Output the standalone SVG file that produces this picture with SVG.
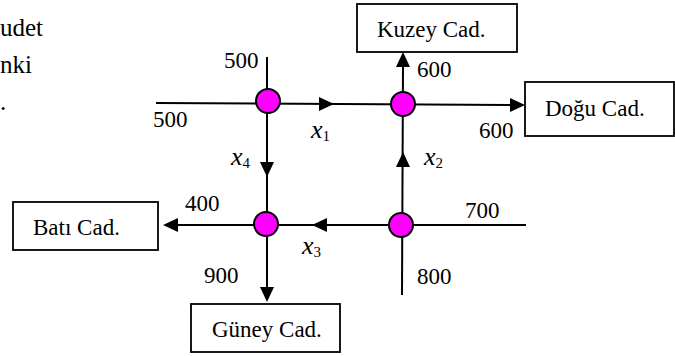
<svg xmlns="http://www.w3.org/2000/svg" width="675" height="356" viewBox="0 0 675 356">
<style>
text{font-family:"Liberation Serif","Times New Roman",serif;font-size:23px;fill:#000}
.big{font-size:25px}
.v{font-style:italic;font-size:26px}
.sub{font-style:normal;font-size:15px}
.ln{stroke:#000;stroke-width:2;fill:none}
.box{fill:#fff;stroke:#000;stroke-width:1.8}
.nd{fill:#ff00ff;stroke:#000;stroke-width:2}
</style>
<defs>
<path id="ah" d="M0,0 L-15,-7 L-15,7 Z" fill="#000"/>
</defs>
<g id="side-text">
<text class="big" x="0" y="36">udet</text>
<text class="big" x="0" y="73">nki</text>
<text class="big" x="0" y="110">.</text>
</g>
<g id="connectors">
<path class="ln" d="M156,103 L512,105"/>
<path class="ln" d="M267,57 L267,290"/>
<path class="ln" d="M403,66 L402,295"/>
<path class="ln" d="M176,225 L526,225"/>
<use href="#ah" transform="translate(403,52) rotate(-90)"/>
<use href="#ah" transform="translate(525,105)"/>
<use href="#ah" transform="translate(334,104)"/>
<use href="#ah" transform="translate(403,152) rotate(-90)"/>
<use href="#ah" transform="translate(267,177) rotate(90)"/>
<use href="#ah" transform="translate(312,225) rotate(180)"/>
<use href="#ah" transform="translate(163,225) rotate(180)"/>
<use href="#ah" transform="translate(267,302) rotate(90)"/>
</g>
<g id="kuzey"><rect class="box" x="357" y="4" width="160" height="48"/><text x="377" y="37">Kuzey Cad.</text></g>
<g id="dogu"><rect class="box" x="525" y="82" width="149" height="54"/><text x="545" y="116">Doğu Cad.</text></g>
<g id="bati"><rect class="box" x="13" y="202" width="145" height="48"/><text x="33" y="235">Batı Cad.</text></g>
<g id="guney"><rect class="box" x="191" y="304" width="149" height="48"/><text x="212" y="337">Güney Cad.</text></g>
<g id="n1"><circle class="nd" cx="268" cy="101" r="12"/></g>
<g id="n2"><circle class="nd" cx="403" cy="104" r="12"/></g>
<g id="n3"><circle class="nd" cx="266" cy="224" r="12"/></g>
<g id="n4"><circle class="nd" cx="401" cy="225" r="12"/></g>
<g id="labels">
<text x="224" y="68">500</text>
<text x="153" y="127">500</text>
<text x="417" y="77">600</text>
<text x="479" y="138">600</text>
<text x="185" y="211">400</text>
<text x="204" y="283">900</text>
<text x="465" y="218">700</text>
<text x="417" y="284">800</text>
<text class="v" x="311" y="138">x<tspan class="sub" dy="3">1</tspan></text>
<text class="v" x="424" y="165">x<tspan class="sub" dy="3">2</tspan></text>
<text class="v" x="302" y="254">x<tspan class="sub" dy="3">3</tspan></text>
<text class="v" x="231" y="165">x<tspan class="sub" dy="3">4</tspan></text>
</g>
</svg>
